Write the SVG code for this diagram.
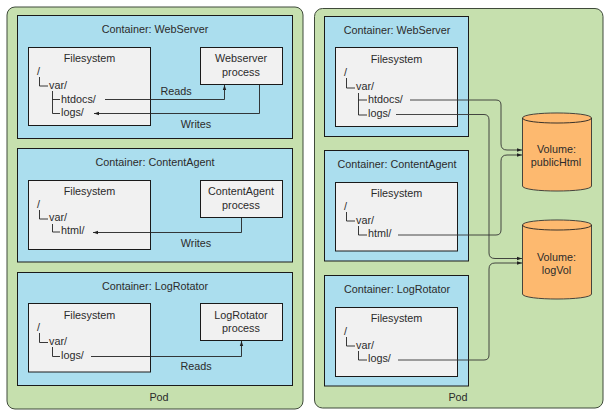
<svg xmlns="http://www.w3.org/2000/svg" width="609" height="417" viewBox="0 0 609 417">
<style>
text{font-family:"Liberation Sans",Arial,sans-serif;font-size:10.8px;fill:#2b2b2b;text-anchor:middle}
.l{text-anchor:start}
.pod{fill:#c6e0ae;stroke:#3f4a3a;stroke-width:1}
.c{fill:#abdeee;stroke:#1a1a1a;stroke-width:1}
.f{fill:#f1f1f1;stroke:#1a1a1a;stroke-width:1}
.t{fill:none;stroke:#222;stroke-width:.9}
.w{fill:none;stroke:#222;stroke-width:.9;marker-end:url(#a)}
.g{fill:none;stroke:#333;stroke-width:.9;marker-end:url(#a)}
.v{fill:#fdb96f;stroke:#333;stroke-width:.9}
</style>
<defs><marker id="a" markerUnits="userSpaceOnUse" markerWidth="6" markerHeight="5" refX="5" refY="2.500" orient="auto"><path d="M0 .8L5 2.500L0 4.200z" fill="#222"/></marker></defs>
<rect width="609" height="417" fill="#fff"/>
<g id="pod-left">
<rect class="pod" x="7" y="7" width="296" height="402" rx="8"/>
<text x="159" y="401">Pod</text>
</g>
<g id="ws-left">
<rect class="c" x="17.500" y="15.500" width="275" height="123"/>
<text x="155" y="33">Container: WebServer</text>
<rect class="f" x="28.500" y="47.500" width="122" height="78"/>
<text x="89.500" y="62">Filesystem</text>
<text class="l" x="37" y="75">/</text><text class="l" x="49" y="89">var/</text><text class="l" x="61" y="103">htdocs/</text><text class="l" x="61" y="116">logs/</text>
<path class="t" d="M39.500 77V86H48M52.500 91V113.500H60M52.500 99.500H60"/>
</g>
<g id="wsp-left">
<rect class="f" x="200.500" y="47.500" width="82" height="37"/>
<text x="241" y="62">Webserver</text><text x="241" y="76">process</text>
</g>
<g id="ca-left">
<rect class="c" x="17.500" y="148.500" width="275" height="113.500"/>
<text x="155" y="166">Container: ContentAgent</text>
<rect class="f" x="28.500" y="180.500" width="122" height="69"/>
<text x="89.500" y="195">Filesystem</text>
<text class="l" x="37" y="208">/</text><text class="l" x="49" y="221">var/</text><text class="l" x="61" y="234">html/</text>
<path class="t" d="M39.500 210V219H48M52.500 224V232H60"/>
</g>
<g id="cap-left">
<rect class="f" x="200.500" y="180.500" width="82" height="37"/>
<text x="241" y="195">ContentAgent</text><text x="241" y="209">process</text>
</g>
<g id="lr-left">
<rect class="c" x="17.500" y="272.500" width="275" height="113"/>
<text x="155" y="290">Container: LogRotator</text>
<rect class="f" x="28.500" y="303.500" width="122" height="68.500"/>
<text x="89.500" y="319">Filesystem</text>
<text class="l" x="37" y="331">/</text><text class="l" x="49" y="345">var/</text><text class="l" x="61" y="359">logs/</text>
<path class="t" d="M39.500 333V342.500H48M52.500 347V356.500H60"/>
</g>
<g id="lrp-left">
<rect class="f" x="200.500" y="303.500" width="82" height="37"/>
<text x="241" y="319">LogRotator</text><text x="241" y="332">process</text>
</g>
<g id="pod-right">
<rect class="pod" x="314.500" y="8.500" width="288.500" height="399.500" rx="8"/>
<text x="458" y="401">Pod</text>
</g>
<g id="ws-right">
<rect class="c" x="324.500" y="16.500" width="144" height="120"/>
<text x="397" y="34">Container: WebServer</text>
<rect class="f" x="335.500" y="47.500" width="122" height="79"/>
<text x="396.500" y="63">Filesystem</text>
<text class="l" x="344" y="76">/</text><text class="l" x="356" y="90">var/</text><text class="l" x="368" y="103">htdocs/</text><text class="l" x="368" y="117">logs/</text>
<path class="t" d="M346.500 78V88H355M358.500 93V115H367M358.500 100H367"/>
</g>
<g id="ca-right">
<rect class="c" x="324.500" y="150.500" width="144" height="110.500"/>
<text x="397" y="168">Container: ContentAgent</text>
<rect class="f" x="335.500" y="182.500" width="122" height="68.500"/>
<text x="396.500" y="197">Filesystem</text>
<text class="l" x="344" y="210">/</text><text class="l" x="356" y="224">var/</text><text class="l" x="368" y="237">html/</text>
<path class="t" d="M346.500 212V221H355M358.500 226V235H367"/>
</g>
<g id="lr-right">
<rect class="c" x="324.500" y="275.500" width="144" height="110.500"/>
<text x="397" y="293">Container: LogRotator</text>
<rect class="f" x="335.500" y="307.500" width="122" height="69"/>
<text x="396.500" y="322">Filesystem</text>
<text class="l" x="344" y="335">/</text><text class="l" x="356" y="349">var/</text><text class="l" x="368" y="362">logs/</text>
<path class="t" d="M346.500 337V346H355M358.500 351V360H367"/>
</g>
<g id="vol-public">
<path class="v" d="M522.500 118C522.500 111.300 591.500 111.300 591.500 118V186C591.500 192.700 522.500 192.700 522.500 186Z"/>
<path class="t" d="M522.500 118C522.500 124.700 591.500 124.700 591.500 118"/>
<text x="556.500" y="153">Volume:</text><text x="556" y="166">publicHtml</text>
</g>
<g id="vol-log">
<path class="v" d="M522.500 225C522.500 218.300 591.500 218.300 591.500 225V294C591.500 300.700 522.500 300.700 522.500 294Z"/>
<path class="t" d="M522.500 225C522.500 231.700 591.500 231.700 591.500 225"/>
<text x="556.500" y="261">Volume:</text><text x="556.500" y="274">logVol</text>
</g>
<g id="connectors">
<text x="176" y="95">Reads</text><text x="196" y="128">Writes</text>
<path class="w" d="M105 99.500H224.500V85"/>
<path class="w" d="M259.500 85V113.500H94"/>
<text x="196" y="247">Writes</text>
<path class="w" d="M241.500 218V232.500H93"/>
<text x="196" y="370">Reads</text>
<path class="w" d="M91 356.500H241.500V341"/>
<path class="g" d="M410 100H496Q501 100 501 105V144Q501 150 507 150H522"/>
<path class="g" d="M396 114.500H484Q489 114.500 489 120V253Q489 258.500 495 258.500H522"/>
<path class="g" d="M398 235H496Q501 235 501 230V161Q501 155 507 155H522"/>
<path class="g" d="M398 360H484Q489 360 489 355V269Q489 263 495 263H522"/>
</g>
</svg>
